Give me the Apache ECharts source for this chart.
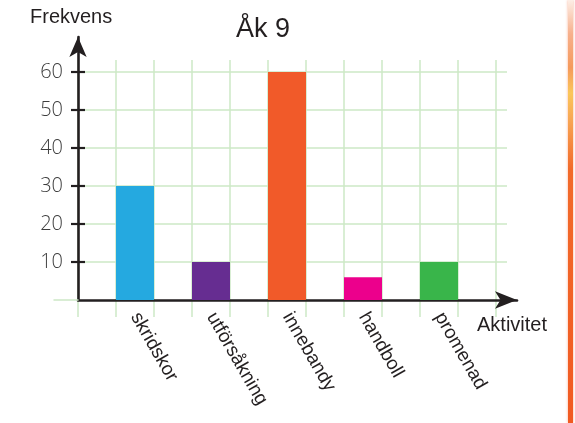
<!DOCTYPE html>
<html>
<head>
<meta charset="utf-8">
<script src="https://cdn.jsdelivr.net/npm/echarts@6/dist/echarts.min.js"></script>
<style>
  html, body { margin: 0; padding: 0; background: #ffffff; }
  #chart { width: 575px; height: 423px; }
</style>
</head>
<body>
<div id="chart"></div>
<script>
// Chart texts
const chartTitle = 'Åk 9';
const yAxisTitle = 'Frekvens';
const xAxisTitle = 'Aktivitet';

// Data
const activities = ['skridskor', 'utförsåkning', 'innebandy', 'handboll', 'promenad'];
const frequencies = [30, 10, 60, 6, 10];
const barColors = ['#25a9e0', '#662d91', '#f15a29', '#ec008c', '#39b54a'];
const yTickValues = [10, 20, 30, 40, 50, 60];

// Each activity occupies every other column of the squared paper,
// starting with the second column; the other columns stay empty.
const columnNames = [''];
const columnValues = [null];
activities.forEach(function (name, i) {
  columnNames.push(name, '');
  columnValues.push({ value: frequencies[i], itemStyle: { color: barColors[i] } }, null);
});

const ink = '#231f20';
const paperLine = { color: '#cde8c6', width: 1.5 };
const axisLineStyle = { color: ink, width: 2.6 };

const chart = echarts.init(document.getElementById('chart'), null, { renderer: 'canvas' });

chart.setOption({
  animation: false,
  backgroundColor: '#ffffff',
  title: [
    { text: chartTitle, left: 236, top: 16, padding: 0,
      textStyle: { fontFamily: 'Liberation Sans', fontSize: 27, fontWeight: 'normal', color: ink } },
    { text: yAxisTitle, left: 30, top: 7, padding: 0,
      textStyle: { fontFamily: 'Liberation Sans', fontSize: 20, fontWeight: 'normal', color: ink } },
    { text: xAxisTitle, left: 477, top: 315, padding: 0,
      textStyle: { fontFamily: 'Liberation Sans', fontSize: 20, fontWeight: 'normal', color: ink } }
  ],
  grid: [
    // 0: horizontal paper lines and the frequency scale
    { left: 78, right: 68, top: 72, bottom: 123 },
    // 1: vertical paper lines and the bars
    { left: 78, right: 79, top: 60, bottom: 106 },
    // 2: the two arrowed axes
    { left: 78, right: 58, top: 37, bottom: 123 },
    // 3: short piece of the zero line left of the y axis
    { left: 54, right: 497, top: 72, bottom: 123 }
  ],
  xAxis: [
    { gridIndex: 0, type: 'value', show: false, min: 0, max: 1 },
    {
      gridIndex: 1, type: 'category', data: columnNames, boundaryGap: true,
      axisLine: { show: false },
      axisTick: { show: false },
      splitLine: { show: true, interval: 0, lineStyle: paperLine },
      axisLabel: {
        interval: 0, rotate: -60, margin: -3,
        fontFamily: 'Liberation Sans', fontSize: 19, color: ink
      }
    },
    {
      gridIndex: 2, type: 'value', min: 0, max: 1,
      axisLine: { show: true, onZero: false, symbol: ['none', 'arrow'], symbolSize: [13, 22], lineStyle: axisLineStyle },
      axisTick: { show: false }, axisLabel: { show: false }, splitLine: { show: false }
    },
    {
      gridIndex: 3, type: 'value', min: 0, max: 1,
      axisLine: { show: true, lineStyle: paperLine },
      axisTick: { show: false }, axisLabel: { show: false }, splitLine: { show: false }
    }
  ],
  yAxis: [
    {
      gridIndex: 0, type: 'value', min: 0, max: 60, interval: 10, position: 'left',
      axisLine: { show: false },
      axisTick: { show: true, length: 7, customValues: yTickValues, lineStyle: { color: ink, width: 2.2 } },
      splitLine: { show: true, lineStyle: paperLine },
      axisLabel: {
        customValues: yTickValues, margin: 15, padding: [5, 0, 0, 0],
        fontFamily: 'Open Sans', fontWeight: 300, fontSize: 20, color: '#3d3d3d'
      }
    },
    {
      gridIndex: 0, type: 'value', min: 0, max: 60, interval: 10, position: 'left',
      axisLine: { show: false },
      axisTick: { show: true, inside: true, length: 7, customValues: yTickValues, lineStyle: { color: ink, width: 2.2 } },
      splitLine: { show: false }, axisLabel: { show: false }
    },
    { gridIndex: 1, type: 'value', show: false, min: -4.47, max: 63.16 },
    {
      gridIndex: 2, type: 'value', min: 0, max: 1,
      axisLine: { show: true, onZero: false, symbol: ['none', 'arrow'], symbolSize: [13, 20], lineStyle: axisLineStyle },
      axisTick: { show: false }, axisLabel: { show: false }, splitLine: { show: false }
    },
    { gridIndex: 3, type: 'value', show: false, min: 0, max: 1 }
  ],
  series: [
    {
      type: 'bar', xAxisIndex: 1, yAxisIndex: 2,
      data: columnValues,
      barCategoryGap: '0%',
      z: 3
    }
  ],
  graphic: [
    // torn orange page edge on the right
    {
      type: 'rect', silent: true,
      shape: { x: 568, y: 0, width: 5, height: 423 },
      style: {
        fill: new echarts.graphic.LinearGradient(0, 0, 0, 1, [
          { offset: 0, color: '#fdeee6' },
          { offset: 0.08, color: '#f7b08c' },
          { offset: 0.16, color: '#f59a5c' },
          { offset: 0.22, color: '#fbc75a' },
          { offset: 0.28, color: '#f8a855' },
          { offset: 0.4, color: '#f26a2a' },
          { offset: 1, color: '#f15a22' }
        ]),
        shadowBlur: 3, shadowColor: 'rgba(241,90,34,0.5)'
      }
    }
  ]
});
</script>
</body>
</html>
